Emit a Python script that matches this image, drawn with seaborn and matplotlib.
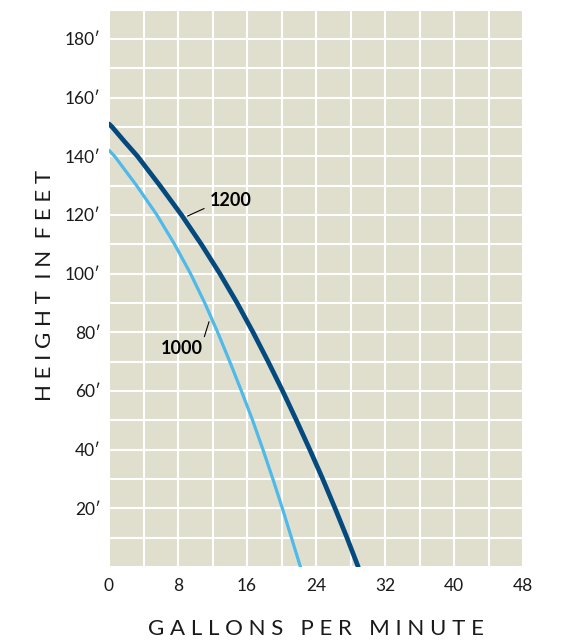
import pandas as pd
import matplotlib
matplotlib.use("Agg")
import matplotlib.pyplot as plt
import seaborn as sns

# pump curves (gpm vs head in feet)
gpm_1200 = [0, 0.35, 1.8, 3.3, 5.9, 8.4, 10.7, 12.85, 14.85, 16.7, 18.45, 20.13, 21.73, 23.28, 24.78, 26.21, 27.59, 28.9]
ft_1200 = [151, 150, 145, 140, 130, 120, 110, 100, 90, 80, 70, 60, 50, 40, 30, 20, 10, 0]

gpm_1000 = [0, 0.65, 3.2, 5.55, 7.6, 9.45, 11.1, 12.6, 14.0, 15.35, 16.65, 17.85, 19.0, 20.1, 21.15, 22.2]
ft_1000 = [142, 140, 130, 120, 110, 100, 90, 80, 70, 60, 50, 40, 30, 20, 10, 0]

x_ticks = [0, 8, 16, 24, 32, 40, 48]
y_ticks = [20, 40, 60, 80, 100, 120, 140, 160, 180]

df12 = pd.DataFrame({"gpm": gpm_1200, "ft": ft_1200})
df10 = pd.DataFrame({"gpm": gpm_1000, "ft": ft_1000})

sns.set_style("white", {"axes.facecolor": "#e0dfce"})
plt.rcParams["font.family"] = ["Lato", "DejaVu Sans"]

fig = plt.figure(figsize=(5.63, 6.41), dpi=100)
ax = fig.add_axes([109 / 563, 1 - 567 / 641, 414 / 563, 557.5 / 641])

sns.lineplot(x="gpm", y="ft", data=df10, ax=ax, color="#4fb9e9", linewidth=2.3,
             solid_capstyle="round", solid_joinstyle="round", sort=False)
sns.lineplot(x="gpm", y="ft", data=df12, ax=ax, color="#054a7e", linewidth=3.4,
             solid_capstyle="round", solid_joinstyle="round", sort=False)

ax.set_xlim(0, 48)
ax.set_ylim(0, 190)
ax.set_xticks(x_ticks)
ax.set_xticklabels([str(v) for v in x_ticks])
ax.set_yticks(y_ticks)
ax.set_yticklabels([f"{v}\u2032" for v in y_ticks])
ax.set_xticks(range(0, 49, 4), minor=True)
ax.set_yticks(range(0, 191, 10), minor=True)
ax.grid(which="both", color="white", linewidth=1.5)
ax.set_axisbelow(True)
ax.tick_params(which="both", length=0)
ax.tick_params(axis="x", labelsize=12.5, pad=8, colors="#1a1a1a")
ax.tick_params(axis="y", labelsize=12.5, pad=6, colors="#1a1a1a")
for s in ax.spines.values():
    s.set_visible(False)

ax.set_xlabel("G A L L O N S   P E R   M I N U T E", fontsize=16, color="#1a1a1a")
ax.set_ylabel("H E I G H T  I N  F E E T", fontsize=16, color="#1a1a1a")
ax.xaxis.set_label_coords(0.5, -0.093)
ax.yaxis.set_label_coords(-0.131, 0.505)

ax.annotate("1200", xy=(9.1, 119.6), xytext=(11.7, 124.8), ha="left", va="center",
            fontsize=13, fontweight="bold", color="black",
            arrowprops=dict(arrowstyle="-", lw=0.8, color="black", shrinkA=2, shrinkB=0,
                            relpos=(0, 0.2)))
ax.annotate("1000", xy=(11.6, 83.6), xytext=(8.5, 74.5), ha="center", va="center",
            fontsize=13, fontweight="bold", color="black",
            arrowprops=dict(arrowstyle="-", lw=0.8, color="black", shrinkA=0, shrinkB=0,
                            relpos=(1, 1)))

fig.savefig("out.png", dpi=100)
